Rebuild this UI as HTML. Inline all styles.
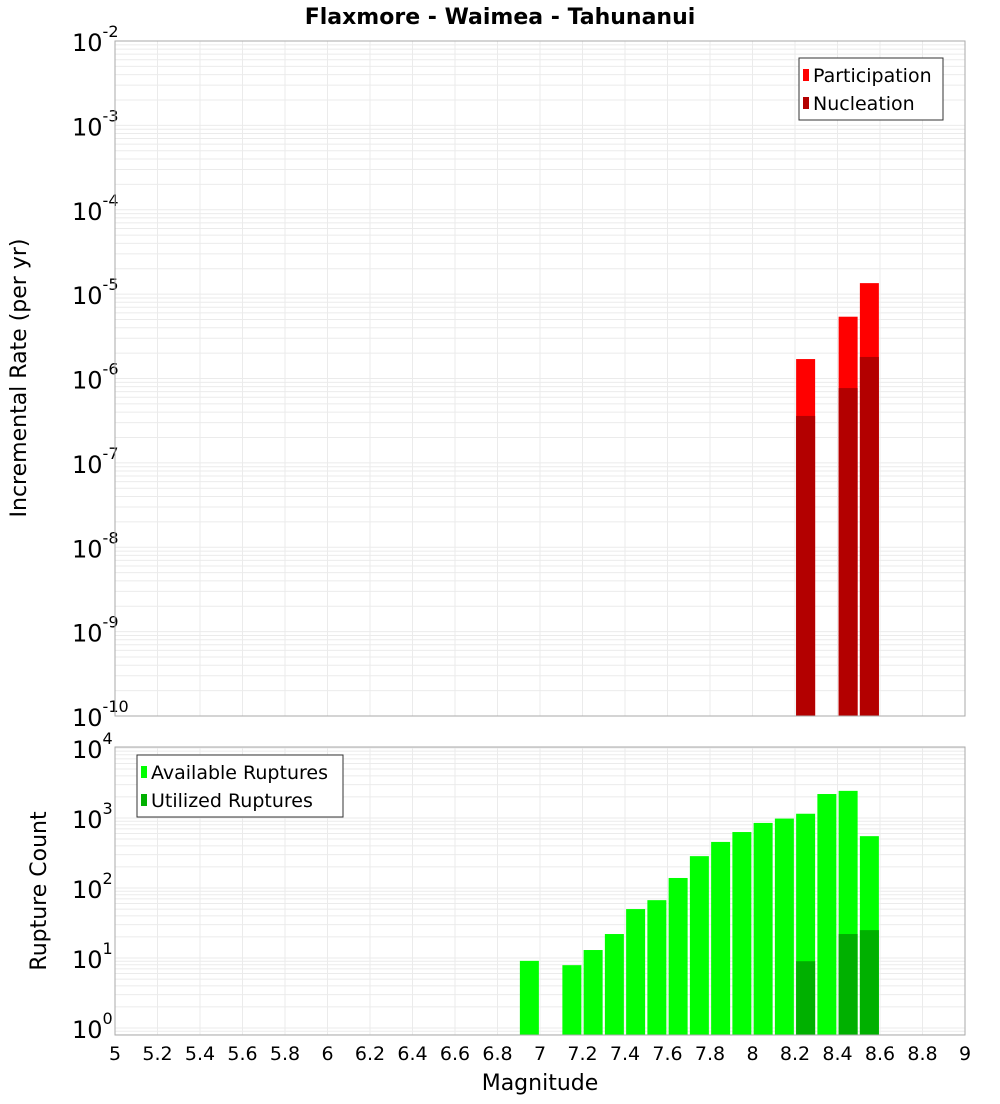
<!DOCTYPE html>
<html><head><meta charset="utf-8"><style>
body{margin:0;background:#fff;font-family:"DejaVu Sans","Liberation Sans",sans-serif}
svg text{font-family:"DejaVu Sans","Liberation Sans",sans-serif}
</style></head><body>
<svg id="c" width="1000" height="1100" xmlns="http://www.w3.org/2000/svg">
<text x="500" y="24" text-anchor="middle" font-size="22" font-weight="bold">Flaxmore - Waimea - Tahunanui</text>
<g id="top"></g>
<g id="bot"></g>
<text transform="translate(26,378) rotate(-90)" text-anchor="middle" font-size="22">Incremental Rate (per yr)</text>
<text transform="translate(46,891) rotate(-90)" text-anchor="middle" font-size="22">Rupture Count</text>
<text x="540" y="1090" text-anchor="middle" font-size="22">Magnitude</text>
</svg>
<script>
const rateMags=[8.25,8.45,8.55];
const participation=[1.7e-6,5.4e-6,1.35e-5];
const nucleation=[3.6e-7,7.7e-7,1.8e-6];
const countMags=[6.95,7.15,7.25,7.35,7.45,7.55,7.65,7.75,7.85,7.95,8.05,8.15,8.25,8.35,8.45,8.55];
const available=[9.1,7.9,13,22,50,67,139,285,455,630,850,980,1150,2200,2440,550];
const utilizedMags=[8.25,8.45,8.55];
const utilized=[9,22,25];
const xTicks=["5","5.2","5.4","5.6","5.8","6","6.2","6.4","6.6","6.8","7","7.2","7.4","7.6","7.8","8","8.2","8.4","8.6","8.8","9"];

const NS="http://www.w3.org/2000/svg";
const L=115,R=965;
const x=m=>L+(m-5)/4*(R-L);
function mk(p,t,a){const e=document.createElementNS(NS,t);for(const k in a)e.setAttribute(k,a[k]);p.appendChild(e);return e;}
function panel(g,top,bot,lmin,lmax){
  const y=v=>bot-(Math.log10(v)-lmin)/(lmax-lmin)*(bot-top);
  for(let d=Math.floor(lmin);d<=Math.ceil(lmax);d++)for(let k=1;k<10;k++){
    const yy=y(k*Math.pow(10,d));if(yy<top||yy>bot)continue;
    const ln=mk(g,'line',{x1:L,x2:R,y1:yy,y2:yy,stroke:'#ebebeb','stroke-width':1});
    
  }
  for(let i=0;i<xTicks.length;i++){const xx=x(5+i*0.2);
    const ln=mk(g,'line',{x1:xx,x2:xx,y1:top,y2:bot,stroke:'#ebebeb','stroke-width':1});
    }
  for(let d=Math.ceil(lmin);d<=Math.floor(lmax);d++){
    const t=mk(g,'text',{x:72,y:y(Math.pow(10,d))+10,'font-size':24});
    
    t.textContent='10';const s=mk(t,'tspan',{dy:-14,'font-size':16});s.textContent=String(d);
  }
  return y;
}
function bar(g,m,v,y,bot,fill,name){
  const r=mk(g,'rect',{x:x(m)-9.5,y:y(v),width:19,height:bot-y(v),fill:fill});
  
}
function frame(g,top,bot){const r=mk(g,'rect',{x:L,y:top,width:R-L,height:bot-top,fill:'none',stroke:'#aaa','stroke-width':1});
  }
function legend(g,lx,ly,w,items){
  const b=mk(g,'rect',{x:lx,y:ly,width:w,height:62,fill:'#fff',stroke:'#333','stroke-width':1});
  
  items.forEach((it,i)=>{
    const s=mk(g,'rect',{x:lx+4,y:ly+11+i*28,width:6,height:12,fill:it[1]});
    
    const t=mk(g,'text',{x:lx+14,y:ly+24+i*28,'font-size':19});
    t.textContent=it[0];
  });
}
// top
const gt=document.getElementById('top');
const T1=41,B1=716;
const y1=panel(gt,T1,B1,-10,-2);
rateMags.forEach((m,i)=>bar(gt,m,participation[i],y1,B1,'#ff0000','participation-bar'));
rateMags.forEach((m,i)=>bar(gt,m,nucleation[i],y1,B1,'#b30000','nucleation-bar'));
frame(gt,T1,B1);
legend(gt,799,58,144,[["Participation","#ff0000"],["Nucleation","#b30000"]]);
// bottom
const gb=document.getElementById('bot');
const T2=747,B2=1035;
const y2=panel(gb,T2,B2,-0.1,4.014);
countMags.forEach((m,i)=>bar(gb,m,available[i],y2,B2,'#00ff00','available-bar'));
utilizedMags.forEach((m,i)=>bar(gb,m,utilized[i],y2,B2,'#00b000','utilized-bar'));
frame(gb,T2,B2);
legend(gb,137,755,206,[["Available Ruptures","#00ff00"],["Utilized Ruptures","#00b000"]]);
xTicks.forEach((s,i)=>{const t=mk(gb,'text',{x:x(5+i*0.2),y:1060,'text-anchor':'middle','font-size':19});
  t.textContent=s;});
</script>
</body></html>
